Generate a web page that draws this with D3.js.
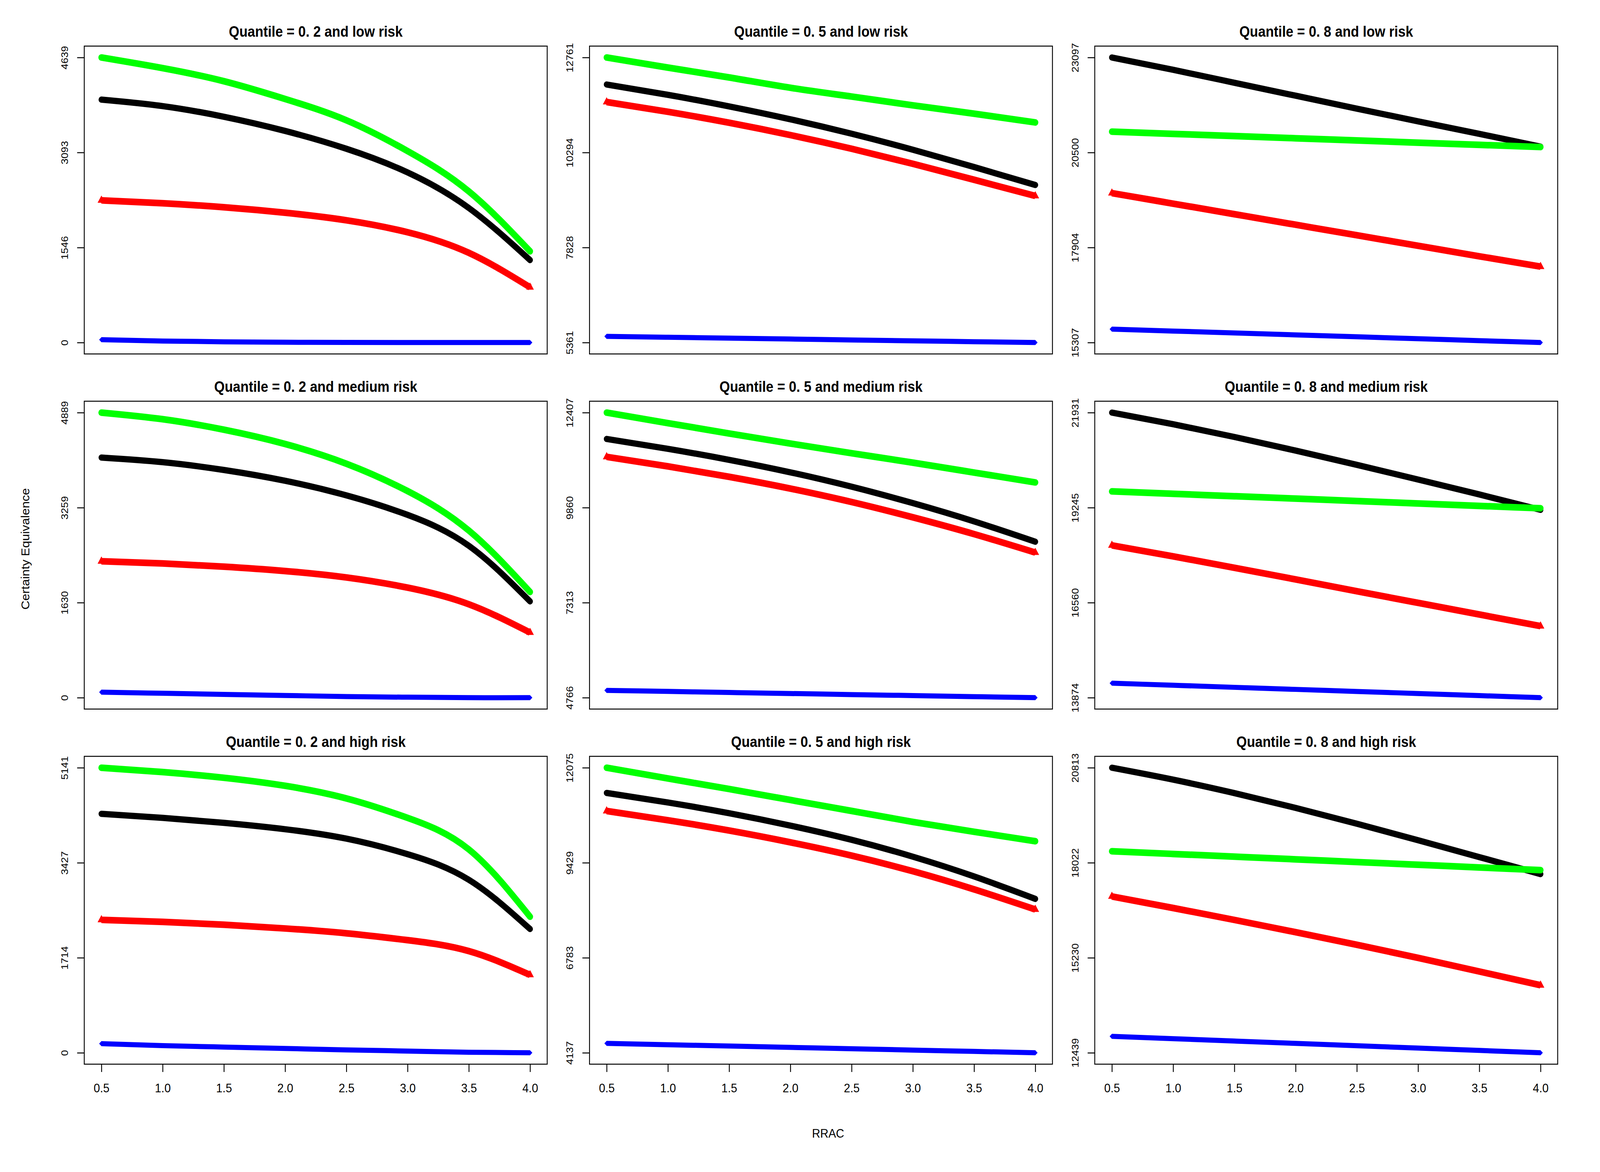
<!DOCTYPE html>
<html>
<head>
<meta charset="utf-8">
<script src="https://cdn.jsdelivr.net/npm/d3@7"></script>
<style>
  html, body { margin: 0; padding: 0; background: #ffffff; overflow: hidden; }
  #vis-container svg { display: block; width: 100vw; height: 100vh; }
  text { font-family: "Liberation Sans", Arial, Helvetica, sans-serif; }
</style>
</head>
<body>
<div id="vis-container"></div>
<script>
// x values (RRAC) shared by every panel
const rrac = [0.5, 1.0, 1.5, 2.0, 2.5, 3.0, 3.5, 4.0];
const xTicks = [0.5, 1.0, 1.5, 2.0, 2.5, 3.0, 3.5, 4.0];

const quantileLabels = ["0. 2", "0. 5", "0. 8"];
const riskLabels = ["low", "medium", "high"];

// Quantile = 0.2
const q2LowTicks = [0, 1546, 3093, 4639];
const q2LowGreen = [4639, 4466, 4253, 3964, 3617, 3116, 2460, 1485];
const q2LowBlack = [3953, 3848, 3675, 3444, 3154, 2769, 2190, 1342];
const q2LowRed = [2314, 2267, 2202, 2113, 1990, 1795, 1460, 899];
const q2LowBlue = [46, 25, 12, 5, 2, 0, 0, 0];

const q2MedTicks = [0, 1630, 3259, 4889];
const q2MedGreen = [4889, 4776, 4596, 4351, 4013, 3543, 2866, 1813];
const q2MedBlack = [4118, 4039, 3905, 3720, 3470, 3135, 2605, 1651];
const q2MedRed = [2339, 2302, 2247, 2172, 2062, 1887, 1602, 1117];
const q2MedBlue = [94, 75, 56, 38, 19, 8, 0, 0];

const q2HighTicks = [0, 1714, 3427, 5141];
const q2HighGreen = [5141, 5063, 4960, 4815, 4588, 4237, 3668, 2454];
const q2HighBlack = [4309, 4237, 4147, 4032, 3862, 3582, 3120, 2232];
const q2HighRed = [2397, 2361, 2310, 2242, 2155, 2031, 1834, 1405];
const q2HighBlue = [165, 129, 103, 78, 52, 31, 10, 0];

// Quantile = 0.5
const q5LowTicks = [5361, 7828, 10294, 12761];
const q5LowGreen = [12761, 12499, 12243, 11975, 11747, 11519, 11303, 11075];
const q5LowBlack = [12060, 11792, 11492, 11157, 10782, 10367, 9917, 9451];
const q5LowRed = [11605, 11352, 11067, 10747, 10392, 10002, 9587, 9167];
const q5LowBlue = [5521, 5498, 5475, 5452, 5428, 5405, 5383, 5361];

const q5MedTicks = [4766, 7313, 9860, 12407];
const q5MedGreen = [12407, 12125, 11848, 11578, 11319, 11066, 10801, 10536];
const q5MedBlack = [11701, 11436, 11141, 10806, 10421, 9981, 9491, 8946];
const q5MedRed = [11221, 10966, 10686, 10371, 10011, 9601, 9151, 8656];
const q5MedBlue = [4960, 4933, 4905, 4877, 4849, 4822, 4794, 4766];

const q5HighTicks = [4137, 6783, 9429, 12075];
const q5HighGreen = [12075, 11776, 11482, 11177, 10872, 10567, 10292, 10029];
const q5HighBlack = [11373, 11108, 10808, 10463, 10068, 9598, 9048, 8423];
const q5HighRed = [10870, 10613, 10326, 9998, 9628, 9193, 8688, 8128];
const q5HighBlue = [4400, 4362, 4325, 4287, 4250, 4212, 4175, 4137];

// Quantile = 0.8
const q8LowTicks = [15307, 17904, 20500, 23097];
const q8LowGreen = [21070, 21010, 20950, 20890, 20830, 20770, 20710, 20650];
const q8LowBlack = [23097, 22761, 22407, 22053, 21700, 21352, 21010, 20662];
const q8LowRed = [19391, 19103, 18815, 18527, 18239, 17952, 17664, 17382];
const q8LowBlue = [15673, 15621, 15569, 15516, 15464, 15412, 15359, 15307];

const q8MedTicks = [13874, 16560, 19245, 21931];
const q8MedGreen = [19704, 19636, 19568, 19500, 19432, 19364, 19295, 19227];
const q8MedBlack = [21931, 21603, 21243, 20858, 20455, 20039, 19618, 19183];
const q8MedRed = [18179, 17868, 17546, 17217, 16882, 16553, 16225, 15896];
const q8MedBlue = [14283, 14225, 14166, 14108, 14049, 13991, 13932, 13874];

const q8HighTicks = [12439, 15230, 18022, 20813];
const q8HighGreen = [18359, 18280, 18201, 18122, 18042, 17963, 17884, 17805];
const q8HighBlack = [20813, 20463, 20068, 19633, 19168, 18683, 18188, 17689];
const q8HighRed = [17032, 16692, 16342, 15982, 15612, 15227, 14827, 14423];
const q8HighBlue = [12922, 12853, 12784, 12715, 12646, 12577, 12508, 12439];

// Panels in row-major order: rows = risk, columns = quantile
const panels = [
  { ticks: q2LowTicks, black: q2LowBlack, red: q2LowRed, green: q2LowGreen, blue: q2LowBlue },
  { ticks: q5LowTicks, black: q5LowBlack, red: q5LowRed, green: q5LowGreen, blue: q5LowBlue },
  { ticks: q8LowTicks, black: q8LowBlack, red: q8LowRed, green: q8LowGreen, blue: q8LowBlue },
  { ticks: q2MedTicks, black: q2MedBlack, red: q2MedRed, green: q2MedGreen, blue: q2MedBlue },
  { ticks: q5MedTicks, black: q5MedBlack, red: q5MedRed, green: q5MedGreen, blue: q5MedBlue },
  { ticks: q8MedTicks, black: q8MedBlack, red: q8MedRed, green: q8MedGreen, blue: q8MedBlue },
  { ticks: q2HighTicks, black: q2HighBlack, red: q2HighRed, green: q2HighGreen, blue: q2HighBlue },
  { ticks: q5HighTicks, black: q5HighBlack, red: q5HighRed, green: q5HighGreen, blue: q5HighBlue },
  { ticks: q8HighTicks, black: q8HighBlack, red: q8HighRed, green: q8HighGreen, blue: q8HighBlue }
];

// Set dimensions
const width = 4500;
const height = 3000;
const panelLeft = 237;   // left edge of first plot box
const panelTop = 118;    // top edge of first plot box
const colStep = 1421;
const rowStep = 909;
const pw = 1302;         // plot box width
const ph = 788;          // plot box height

const colors = { black: "#000000", red: "#FF0000", green: "#00FF00", blue: "#0000FF" };
const widths = { black: 16, red: 17, green: 17, blue: 13 };
const drawOrder = ["black", "red", "green", "blue"];

// svg fills the whole window through the viewBox
const svg = d3.select("#vis-container")
  .append("svg")
  .attr("viewBox", [0, 0, width, height])
  .attr("preserveAspectRatio", "none");

svg.append("rect")
  .attr("width", width)
  .attr("height", height)
  .attr("fill", "#ffffff");

panels.forEach((p, i) => {
  const row = Math.floor(i / 3);
  const col = i % 3;

  const g = svg.append("g")
    .attr("transform", `translate(${panelLeft + col * colStep},${panelTop + row * rowStep})`);

  // R style scales: 4% padding on each side of the data range
  const xExt = d3.extent(rrac);
  const xPad = (xExt[1] - xExt[0]) * 0.04;
  const xScale = d3.scaleLinear()
    .domain([xExt[0] - xPad, xExt[1] + xPad])
    .range([0, pw]);

  const yMin = p.ticks[0];
  const yMax = p.ticks[p.ticks.length - 1];
  const yPad = (yMax - yMin) * 0.04;
  const yScale = d3.scaleLinear()
    .domain([yMin - yPad, yMax + yPad])
    .range([ph, 0]);

  const line = d3.line()
    .x((d, j) => xScale(rrac[j]))
    .y((d) => yScale(d))
    .curve(d3.curveNatural);

  // Add lines
  drawOrder.forEach((key) => {
    const vals = p[key];
    g.append("path")
      .datum(vals)
      .attr("d", line)
      .attr("fill", "none")
      .attr("stroke", colors[key])
      .attr("stroke-width", widths[key])
      .attr("stroke-linecap", (key === "red" || key === "blue") ? "butt" : "round")
      .attr("stroke-linejoin", "round");

    // end markers for triangle / diamond series
    if (key === "red" || key === "blue") {
      const sym = key === "red"
        ? d3.symbol().type(d3.symbolTriangle).size(200)
        : d3.symbol().type(d3.symbolDiamond2).size(105);
      g.selectAll(".end-" + key)
        .data([0, vals.length - 1])
        .enter()
        .append("path")
        .attr("class", "end-" + key)
        .attr("d", sym)
        .attr("transform", (j) => `translate(${xScale(rrac[j])},${yScale(vals[j])})`)
        .attr("fill", colors[key]);
    }
  });

  // Add y axis
  const yAxis = g.append("g")
    .call(d3.axisLeft(yScale).tickValues(p.ticks).tickSize(20).tickSizeOuter(0).tickFormat(d3.format("d")));
  yAxis.select(".domain").remove();
  yAxis.selectAll(".tick line").attr("stroke-width", 2.5);
  yAxis.selectAll(".tick text")
    .attr("x", 0)
    .attr("dy", 0)
    .attr("text-anchor", "middle")
    .attr("transform", "translate(-46,0) rotate(-90)")
    .attr("font-size", 27)
    .attr("font-family", "Liberation Sans, Arial, sans-serif")
    .attr("fill", "#000");

  // Add x axis to bottom row only
  if (row === 2) {
    const xAxis = g.append("g")
      .attr("transform", `translate(0,${ph})`)
      .call(d3.axisBottom(xScale).tickValues(xTicks).tickSize(20).tickSizeOuter(0).tickFormat(d3.format(".1f")));
    xAxis.select(".domain").remove();
    xAxis.selectAll(".tick line").attr("stroke-width", 2.5);
    xAxis.selectAll(".tick text")
      .attr("y", 72)
      .attr("dy", 0)
      .attr("font-size", 32)
      .attr("font-family", "Liberation Sans, Arial, sans-serif")
      .attr("fill", "#000");
  }

  // plot box
  g.append("rect")
    .attr("width", pw)
    .attr("height", ph)
    .attr("fill", "none")
    .attr("stroke", "#000")
    .attr("stroke-width", 2.5);

  // panel title
  g.append("text")
    .attr("x", pw / 2)
    .attr("y", -24)
    .attr("text-anchor", "middle")
    .attr("font-size", 38)
    .attr("font-weight", "bold")
    .text(`Quantile = ${quantileLabels[col]} and ${riskLabels[row]} risk`);
});

// outer axis labels
svg.append("text")
  .attr("x", 2329)
  .attr("y", 2912)
  .attr("text-anchor", "middle")
  .attr("font-size", 32)
  .text("RRAC");

svg.append("text")
  .attr("transform", "translate(82,1405) rotate(-90)")
  .attr("text-anchor", "middle")
  .attr("font-size", 32)
  .text("Certainty Equivalence");
</script>
</body>
</html>
